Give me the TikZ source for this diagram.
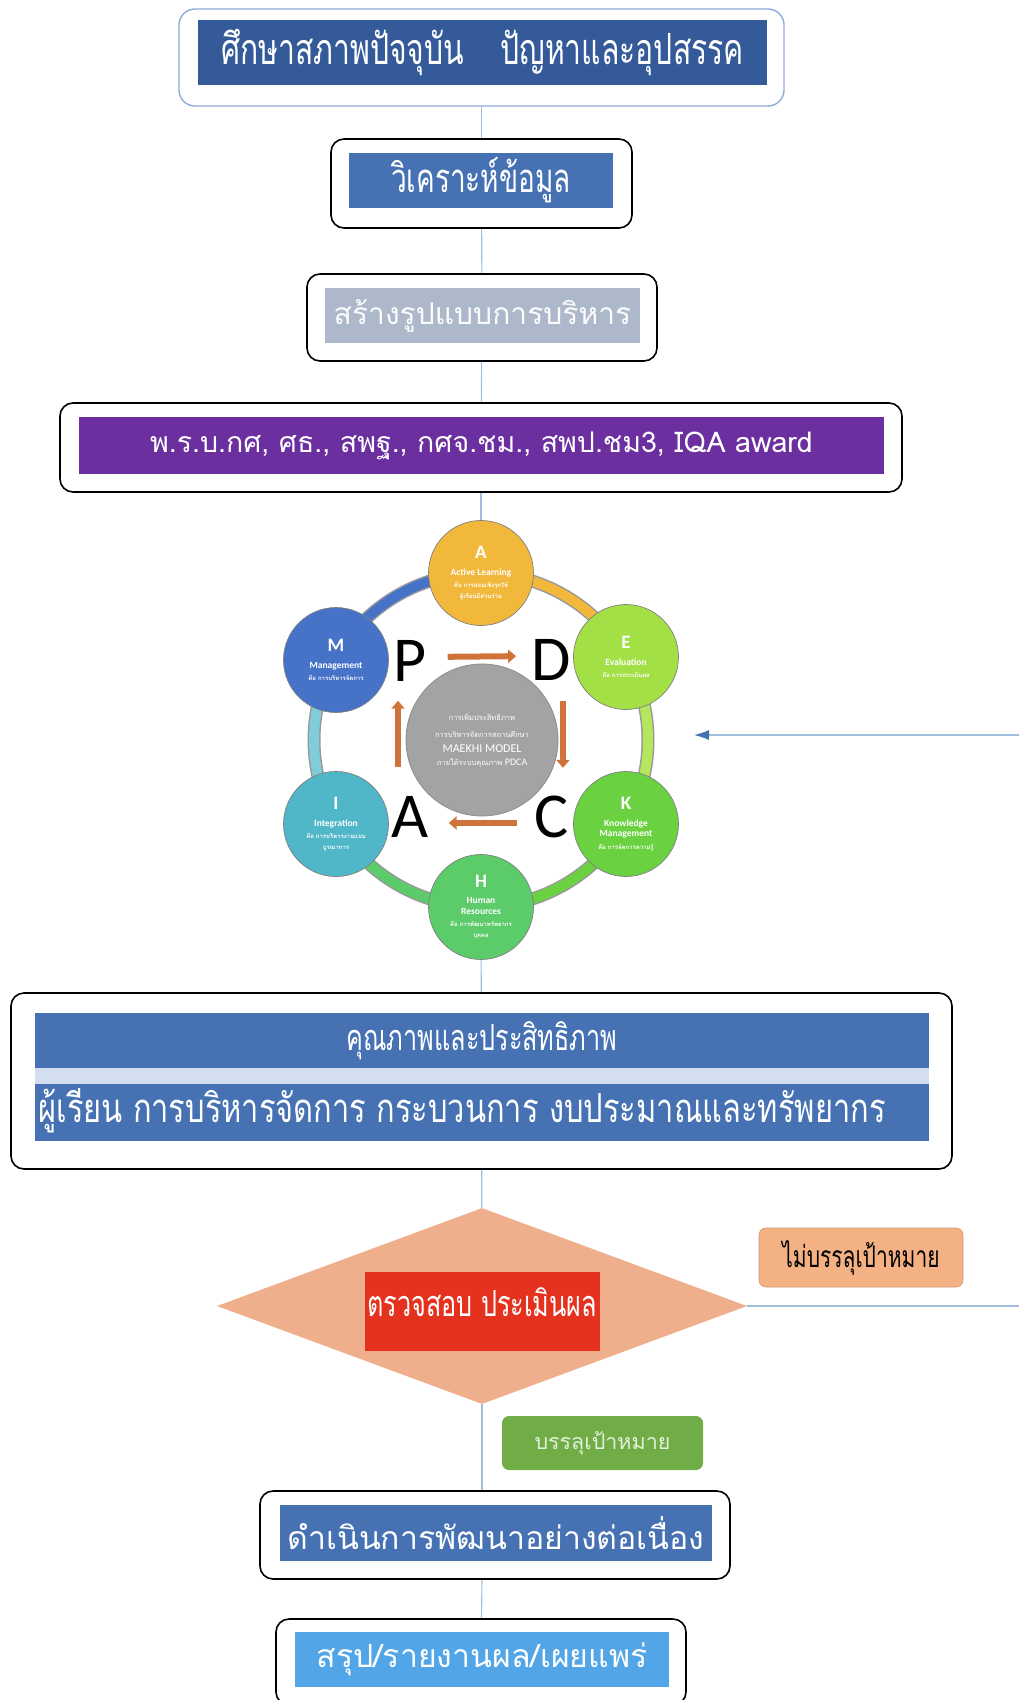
\documentclass[tikz,border=0pt]{standalone}
\usepackage{fontspec}
\usepackage{tikz}
\usetikzlibrary{shapes.geometric,arrows.meta}
\setmainfont{Carlito}
\newfontfamily\thaifont[Script=Thai]{Loma}
\newfontfamily\thaicond[Script=Thai,FakeStretch=0.7]{Loma}
\newfontfamily\thaiwide[Script=Thai,FakeStretch=0.77]{Loma}
\newcommand{\tsm}{\thaifont\fontsize{6}{7}\selectfont}

\definecolor{frameblue}{HTML}{8FAADC}
\definecolor{linkblue}{HTML}{9FBEDD}
\definecolor{banddark}{HTML}{345A9A}
\definecolor{bandmid}{HTML}{4672B4}
\definecolor{bandgray}{HTML}{ADB9CA}
\definecolor{bandpurple}{HTML}{6B2FA0}
\definecolor{bandpale}{HTML}{D3DFEE}
\definecolor{bandsky}{HTML}{52A5E6}
\definecolor{judgefill}{HTML}{F0AF8C}
\definecolor{judgered}{HTML}{E5321E}
\definecolor{failfill}{HTML}{F4B183}
\definecolor{passfill}{HTML}{70AD47}
\definecolor{passtext}{HTML}{E2F0D9}
\definecolor{pdcaorange}{HTML}{D0733A}
\definecolor{coregray}{HTML}{A3A3A3}
\definecolor{ballM}{HTML}{4672C8}
\definecolor{ballA}{HTML}{F2B83C}
\definecolor{ballE}{HTML}{A3E046}
\definecolor{ballK}{HTML}{6AD240}
\definecolor{ballH}{HTML}{5CCB6A}
\definecolor{ballI}{HTML}{50B7C8}
\definecolor{ringI}{HTML}{80CCD8}
\definecolor{ringE}{HTML}{B6E65C}

\begin{document}
\begin{tikzpicture}[x=1pt,y=-1pt]
    \tikzstyle{frame}=[draw=black, line width=1.6pt, rounded corners=13pt, fill=white]
    \tikzstyle{band}=[inner sep=0pt, text=white]
    \tikzstyle{link}=[draw=linkblue, line width=1.1pt]
    \tikzstyle{ball}=[circle, minimum size=105pt, inner sep=0pt, draw=black!50, line width=0.7pt,
                      text=white, align=center, font=\bfseries\fontsize{9.5}{10.5}\selectfont]
    \tikzstyle{cyc}=[draw=pdcaorange, line width=6pt, -{Triangle[length=8pt,width=13pt]}]
    \tikzstyle{pdca}=[inner sep=0pt, font=\fontsize{64}{64}\selectfont]

    \useasboundingbox (0,0) rectangle (1018,1700);

    % steps at the top
    \node[frame, draw=frameblue, line width=1.4pt, rounded corners=16pt, minimum width=605, minimum height=97] (study) at (481.5,57.5) {};
    \node[band, fill=banddark, minimum width=569, minimum height=65] (studyband) at (482.5,52.5)
      {\thaicond\fontsize{43}{43}\selectfont ศึกษาสภาพปัจจุบัน\hspace{36pt}ปัญหาและอุปสรรค};

    \node[frame, minimum width=301, minimum height=89] (analyse) at (481.5,183.5) {};
    \node[band, fill=bandmid, minimum width=264, minimum height=55] (analyseband) at (481,180.5)
      {\thaicond\fontsize{40}{40}\selectfont วิเคราะห์ข้อมูล};

    \node[frame, minimum width=350, minimum height=87] (build) at (482,317.5) {};
    \node[band, fill=bandgray, text=white!95!bandgray, minimum width=315, minimum height=55] (buildband) at (482.5,315.5)
      {\thaifont\fontsize{30}{30}\selectfont สร้างรูปแบบการบริหาร};

    \node[frame, minimum width=842, minimum height=89] (policy) at (481,447.5) {};
    \node[band, fill=bandpurple, minimum width=805, minimum height=57] (policyband) at (481.5,445.5)
      {\thaifont\fontsize{28.5}{28.5}\selectfont พ.ร.บ.กศ, ศธ., สพฐ., กศจ.ชม., สพป.ชม3, IQA award};

    \draw[link] (study) -- (analyse);
    \draw[link] (analyse) -- (build);
    \draw[link] (build) -- (policy);

    % MAEKHI wheel
    \foreach \a/\b/\col in {210/270/ballM, 270/330/ballA, -30/30/ringE, 30/90/ballK, 90/150/ballH, 150/210/ringI}
      {\draw[line width=13pt, draw=black!40] (481,740) ++(\a:167) arc[start angle=\a, end angle=\b, radius=167];
       \draw[line width=10pt, draw=\col] (481,740) ++(\a-1:167) arc[start angle=\a-1, end angle=\b+1, radius=167];}

    \node[circle, minimum size=152, inner sep=0pt, fill=coregray, draw=black!45, line width=0.8pt, text=white, align=center,
          font=\thaifont\fontsize{7.5}{9}\selectfont] (core) at (482,740)
      {การเพิ่มประสิทธิภาพ\\[8pt]
       การบริหารจัดการสถานศึกษา\\[6pt]
       \rmfamily\fontsize{12}{14}\selectfont MAEKHI MODEL\\[4pt]
       ภายใต้ระบบคุณภาพ \rmfamily\fontsize{10}{12}\selectfont PDCA};

    \foreach \nm/\x/\y/\col/\ltr/\ttl/\dsc in {
        active/481/573/ballA/A/{Active Learning}/{\tsm คือ การสอนเชิงรุกให้\\\tsm ผู้เรียนมีส่วนร่วม},
        evaluation/626/657/ballE/E/Evaluation/{\tsm คือ การประเมินผล},
        knowledge/626/824/ballK/K/{Knowledge\\Management}/{\tsm คือ การจัดการความรู้},
        human/481/907/ballH/H/{Human\\Resources}/{\tsm คือ การพัฒนาทรัพยากร\\\tsm บุคคล},
        integration/336/824/ballI/I/Integration/{\tsm คือ การบริหารงานแบบ\\\tsm บูรณาการ},
        management/336/660/ballM/M/Management/{\tsm คือ การบริหารจัดการ}}
      {\node[ball, fill=\col] (\nm) at (\x,\y)
         {\fontsize{19}{21}\selectfont\bfseries \ltr\\[6pt] \ttl\\[2pt] \dsc};}

    \node[pdca] (pdP) at (410,661) {P};
    \node[pdca] (pdD) at (551,660) {D};
    \node[pdca] (pdC) at (552,817) {C};
    \node[pdca] (pdA) at (410,817) {A};
    \draw[cyc, shorten <=21pt, shorten >=15pt] ([yshift=4pt]pdP.east) -- ([yshift=4pt]pdD.west);
    \draw[cyc, shorten <=20pt, shorten >=28pt] ([xshift=12pt]pdD.south) -- ([xshift=11pt]pdC.north);
    \draw[cyc, shorten <=18pt, shorten >=20pt] ([yshift=-6pt]pdC.west) -- ([yshift=-6pt]pdA.east);
    \draw[cyc, shorten <=29pt, shorten >=19pt] ([xshift=-12pt]pdA.north) -- ([xshift=-12pt]pdP.south);

    \draw[link] (policy) -- (active);

    % results
    \node[frame, minimum width=941, minimum height=176] (quality) at (481.5,1081) {};
    \node[band, fill=bandmid, minimum width=894, minimum height=55] (qualityband) at (482,1040.5)
      {\thaicond\fontsize{36}{36}\selectfont คุณภาพและประสิทธิภาพ};
    \node[band, fill=bandpale, minimum width=894, minimum height=16] (qualitygap) at (482,1076) {};
    \node[band, fill=bandmid, minimum width=894, minimum height=57] (areasband) at (482,1112.5) {};
    \node[band] (areastext) at (462,1111)
      {\thaiwide\fontsize{40}{40}\selectfont ผู้เรียน การบริหารจัดการ กระบวนการ งบประมาณและทรัพยากร};

    \draw[link] (human) -- (quality);

    % check
    \node[diamond, minimum width=530, minimum height=196, inner sep=0pt, fill=judgefill] (judge) at (482,1306) {};
    \node[fill=judgered, minimum width=235, minimum height=79, inner sep=0pt] (judgebox) at (482.5,1311) {};
    \node[band] (judgetext) at (482,1302) {\thaicond\fontsize{36}{36}\selectfont ตรวจสอบ ประเมินผล};

    \draw[link] (quality) -- (judge);

    \node[fill=failfill, draw=failfill!85!black, line width=0.6pt, rounded corners=7pt, minimum width=204, minimum height=59]
      (fail) at (861,1257.5) {\thaicond\fontsize{30}{30}\selectfont ไม่บรรลุเป้าหมาย};
    \coordinate (loopin) at (694,735);
    \draw[link, -{Latex[length=15pt,width=10pt,color=bandmid]}] (judge.east) -- ++(274,0) |- (loopin);

    \node[fill=passfill, text=passtext, rounded corners=7pt, minimum width=201, minimum height=54]
      (pass) at (602.5,1443) {\thaifont\fontsize{21.5}{21.5}\selectfont บรรลุเป้าหมาย};

    % steps at the bottom
    \node[frame, minimum width=470, minimum height=88] (develop) at (495,1535) {};
    \node[band, fill=bandmid, minimum width=432, minimum height=56] (developband) at (496,1533)
      {\thaifont\fontsize{32}{32}\selectfont ดำเนินการพัฒนาอย่างต่อเนื่อง};

    \node[frame, minimum width=410, minimum height=86] (report) at (481,1662) {};
    \node[band, fill=bandsky, minimum width=374, minimum height=55] (reportband) at (482,1659.5)
      {\thaifont\fontsize{32}{32}\selectfont สรุป/รายงานผล/เผยแพร่};

    \draw[link] (judge.south) -- (judge.south |- develop.north);
    \draw[link] (develop.south -| judge.south) -- (report);
\end{tikzpicture}
\end{document}
